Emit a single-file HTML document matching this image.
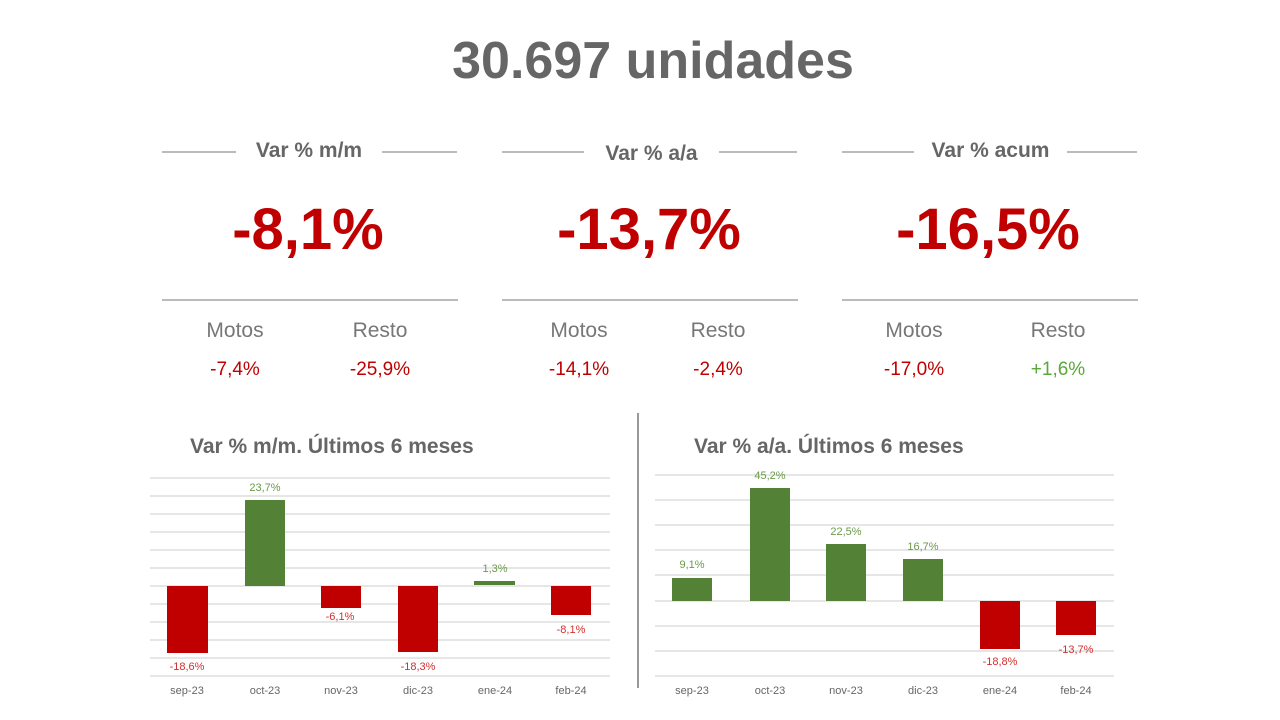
<!DOCTYPE html>
<html><head><meta charset="utf-8"><style>
body{margin:0;width:1280px;height:720px;background:#fff;font-family:"Liberation Sans",Arial,sans-serif;position:relative;overflow:hidden}
.a{position:absolute;white-space:nowrap}
.t{color:#666;font-weight:bold}
.big{color:#c00000;font-weight:bold;font-size:58px;text-align:center;width:300px}
.sub{color:#777;font-size:21px;text-align:center;width:120px}
.v{font-size:19px;text-align:center;width:120px;color:#c00000}
.line{position:absolute;height:2px;background:#bbb}
</style></head><body>
<div class="a t" style="left:0;width:1306px;text-align:center;top:31px;font-size:52px">30.697 unidades</div>

<div class="line" style="left:162px;top:151px;width:74px"></div><div class="line" style="left:382px;top:151px;width:75px"></div>
<div class="a t" style="left:236px;width:146px;text-align:center;top:139px;font-size:21px">Var % m/m</div>
<div class="line" style="left:502px;top:151px;width:82px"></div><div class="line" style="left:719px;top:151px;width:78px"></div>
<div class="a t" style="left:584px;width:135px;text-align:center;top:142px;font-size:21px">Var % a/a</div>
<div class="line" style="left:842px;top:151px;width:72px"></div><div class="line" style="left:1067px;top:151px;width:70px"></div>
<div class="a t" style="left:914px;width:153px;text-align:center;top:139px;font-size:21px">Var % acum</div>

<div class="a big" style="left:158px;top:196px">-8,1%</div>
<div class="a big" style="left:499px;top:196px">-13,7%</div>
<div class="a big" style="left:838px;top:196px">-16,5%</div>

<div class="line" style="left:162px;top:299px;width:296px"></div>
<div class="line" style="left:502px;top:299px;width:296px"></div>
<div class="line" style="left:842px;top:299px;width:296px"></div>

<div class="a sub" style="left:175px;top:319px">Motos</div><div class="a sub" style="left:320px;top:319px">Resto</div>
<div class="a sub" style="left:519px;top:319px">Motos</div><div class="a sub" style="left:658px;top:319px">Resto</div>
<div class="a sub" style="left:854px;top:319px">Motos</div><div class="a sub" style="left:998px;top:319px">Resto</div>
<div class="a v" style="left:175px;top:359px">-7,4%</div><div class="a v" style="left:320px;top:359px">-25,9%</div>
<div class="a v" style="left:519px;top:359px">-14,1%</div><div class="a v" style="left:658px;top:359px">-2,4%</div>
<div class="a v" style="left:854px;top:359px">-17,0%</div><div class="a v" style="left:998px;top:359px;color:#5aa83a">+1,6%</div>

<div class="a t" style="left:190px;top:435px;font-size:21px">Var % m/m. Últimos 6 meses</div>
<div class="a t" style="left:694px;top:435px;font-size:21px">Var % a/a. Últimos 6 meses</div>
<div style="position:absolute;left:637px;top:413px;width:2px;height:275px;background:#999"></div>

<svg width="1280" height="720" style="position:absolute;left:0;top:0" font-family="Liberation Sans,Arial,sans-serif">
<g stroke="#ddd" stroke-width="1.5">
<line x1="150" x2="610" y1="478" y2="478"/><line x1="150" x2="610" y1="496" y2="496"/><line x1="150" x2="610" y1="514" y2="514"/><line x1="150" x2="610" y1="532" y2="532"/><line x1="150" x2="610" y1="550" y2="550"/><line x1="150" x2="610" y1="568" y2="568"/><line x1="150" x2="610" y1="586" y2="586"/><line x1="150" x2="610" y1="604" y2="604"/><line x1="150" x2="610" y1="622" y2="622"/><line x1="150" x2="610" y1="640" y2="640"/><line x1="150" x2="610" y1="658" y2="658"/><line x1="150" x2="610" y1="676" y2="676"/>
<line x1="655" x2="1114" y1="475" y2="475"/><line x1="655" x2="1114" y1="500" y2="500"/><line x1="655" x2="1114" y1="525" y2="525"/><line x1="655" x2="1114" y1="550" y2="550"/><line x1="655" x2="1114" y1="575" y2="575"/><line x1="655" x2="1114" y1="601" y2="601"/><line x1="655" x2="1114" y1="626" y2="626"/><line x1="655" x2="1114" y1="651" y2="651"/><line x1="655" x2="1114" y1="676" y2="676"/>
</g>
<g>
<rect x="167" y="586" width="41" height="67" fill="#c00000"/>
<rect x="245" y="500" width="40" height="86" fill="#538135"/>
<rect x="321" y="586" width="40" height="22" fill="#c00000"/>
<rect x="398" y="586" width="40" height="66" fill="#c00000"/>
<rect x="474" y="581" width="41" height="4" fill="#538135"/>
<rect x="551" y="586" width="40" height="29" fill="#c00000"/>
<rect x="672" y="578" width="40" height="23" fill="#538135"/>
<rect x="750" y="488" width="40" height="113" fill="#538135"/>
<rect x="826" y="544" width="40" height="57" fill="#538135"/>
<rect x="903" y="559" width="40" height="42" fill="#538135"/>
<rect x="980" y="601" width="40" height="48" fill="#c00000"/>
<rect x="1056" y="601" width="40" height="34" fill="#c00000"/>
</g>
<g font-size="11" text-anchor="middle">
<text x="187" y="670" fill="#d23030">-18,6%</text>
<text x="265" y="491" fill="#6a9a4a">23,7%</text>
<text x="340" y="620" fill="#d23030">-6,1%</text>
<text x="418" y="670" fill="#d23030">-18,3%</text>
<text x="495" y="572" fill="#6a9a4a">1,3%</text>
<text x="571" y="633" fill="#d23030">-8,1%</text>
<text x="692" y="568" fill="#6a9a4a">9,1%</text>
<text x="770" y="479" fill="#6a9a4a">45,2%</text>
<text x="846" y="535" fill="#6a9a4a">22,5%</text>
<text x="923" y="550" fill="#6a9a4a">16,7%</text>
<text x="1000" y="665" fill="#d23030">-18,8%</text>
<text x="1076" y="653" fill="#d23030">-13,7%</text>
</g>
<g font-size="11" text-anchor="middle" fill="#666">
<text x="187" y="694">sep-23</text><text x="265" y="694">oct-23</text><text x="341" y="694">nov-23</text><text x="418" y="694">dic-23</text><text x="495" y="694">ene-24</text><text x="571" y="694">feb-24</text>
<text x="692" y="694">sep-23</text><text x="770" y="694">oct-23</text><text x="846" y="694">nov-23</text><text x="923" y="694">dic-23</text><text x="1000" y="694">ene-24</text><text x="1076" y="694">feb-24</text>
</g>
</svg>
</body></html>
